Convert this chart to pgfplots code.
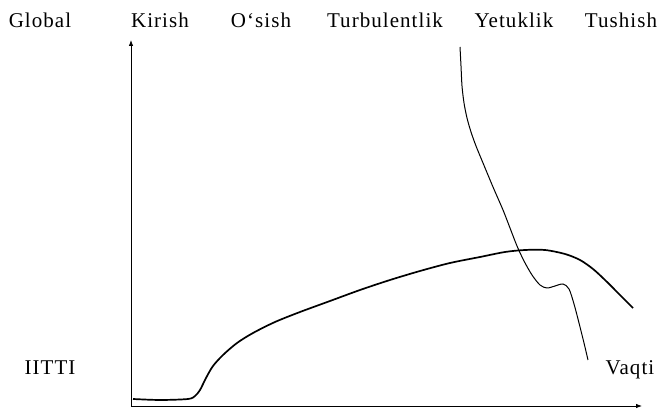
\documentclass[border=0pt]{standalone}
\usepackage{pgfplots}
\pgfplotsset{compat=1.18}
\usepackage{fontspec}
\setmainfont{Liberation Serif}
\usetikzlibrary{arrows.meta}
\begin{document}
\begin{tikzpicture}
\useasboundingbox (0,0) rectangle (661pt,411pt);
\begin{axis}[
  at={(131pt,5pt)}, anchor=south west,
  x=1pt, y=1pt, disabledatascaling,
  xmin=131, xmax=642, ymin=5, ymax=371,
  axis lines=left,
  axis line style={line width=0.8pt, -{Latex[length=6pt,width=4.5pt]}},
  ticks=none,
  clip=false,
]
\addplot[black, line width=1.7pt, smooth] coordinates {
(133,12) (160,11) (188,12) (195,15) (200,21) (206,33) (213,45)
(223,56) (237,68) (253,78) (275,89) (300,99) (330,110) (360,121) (390,131)
(420,140) (450,148) (480,154) (505,159) (525,161) (545,161) (565,157)
(580,151) (593,142) (605,131) (619,117) (633,103)
};
\addplot[black, line width=1.0pt, smooth] coordinates {
(460,364) (461,345) (462,325) (464,308) (467,293) (471,279) (476,265)
(483,248) (493,224) (503,201) (510,183) (517,165) (524,150) (532,136)
(540,126) (547,123) (555,125) (563,127) (569,122) (574,107) (579,88)
(584,68) (588,51)
};
\end{axis}
\fontsize{21}{24}\selectfont\addfontfeature{LetterSpace=5}
\node[anchor=base] at (40pt,383pt) {Global};
\node[anchor=base] at (160pt,383pt) {Kirish};
\node[anchor=base] at (261pt,383pt) {O‘sish};
\node[anchor=base] at (385pt,383pt) {Turbulentlik};
\node[anchor=base] at (514pt,383pt) {Yetuklik};
\node[anchor=base] at (621pt,383pt) {Tushish};
\node[anchor=base] at (50pt,36pt) {IITTI};
\node[anchor=base] at (630pt,36pt) {Vaqti};
\end{tikzpicture}
\end{document}
